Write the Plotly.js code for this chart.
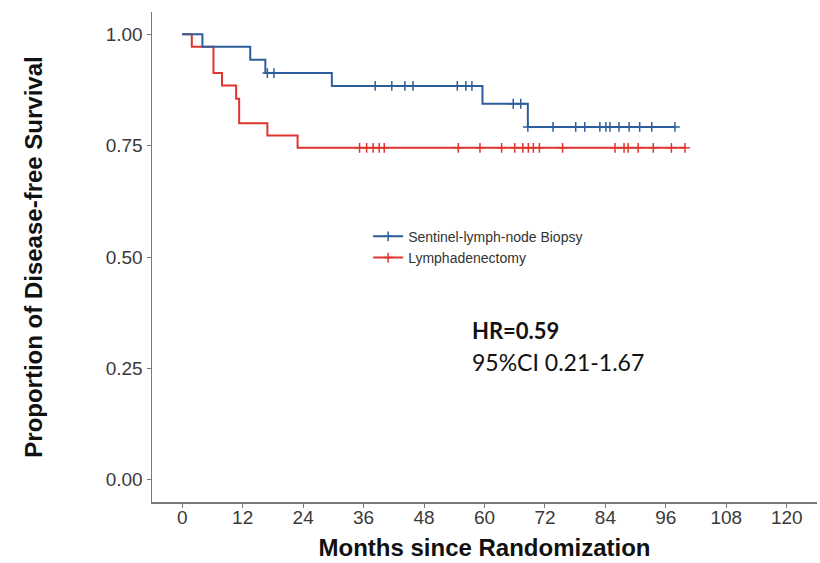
<!DOCTYPE html>
<html>
<head>
<meta charset="utf-8">
<script src="https://cdn.plot.ly/plotly-3.0.1.min.js"></script>
<style>html,body{margin:0;padding:0;background:#fff;}#chart{width:820px;height:563px;}</style>
</head>
<body>
<div id="chart"></div>
<script>
// Step curves (Kaplan–Meier estimates)
const slnbTimes = [0, 4.0, 13.5, 16.5, 29.7, 59.6, 68.6, 97.8];
const slnbSurv  = [1.0, 0.972, 0.943, 0.913, 0.884, 0.844, 0.792, 0.792];
const lymTimes  = [0, 1.9, 6.2, 7.9, 10.7, 11.3, 16.9, 22.9, 99.8];
const lymSurv   = [1.0, 0.972, 0.913, 0.885, 0.855, 0.800, 0.773, 0.745, 0.745];

// Censoring times
const slnbCensor = [16.9, 18.2, 38.3, 41.6, 44.2, 45.8, 54.6, 56.3, 57.5, 65.7, 67.2, 68.6, 73.6, 78.1, 79.9, 82.9, 84.1, 84.9, 86.7, 88.7, 90.8, 93.2, 97.8];
const lymCensor  = [35.2, 36.6, 37.9, 39.1, 40.1, 54.8, 59.1, 63.4, 66.0, 67.6, 68.7, 69.7, 70.9, 75.5, 85.9, 87.7, 88.5, 90.5, 93.5, 97.1, 99.8];

const groupNames = ["Sentinel-lymph-node Biopsy", "Lymphadenectomy"];
const xTicks = [0, 12, 24, 36, 48, 60, 72, 84, 96, 108, 120];
const yTicks = [0, 0.25, 0.5, 0.75, 1.0];
const yTickText = ["0.00", "0.25", "0.50", "0.75", "1.00"];

const blue = "#2D5E9C";
const red = "#E0352F";

function survAt(times, surv, t) {
  let s = surv[0];
  for (let i = 0; i < times.length; i++) { if (times[i] <= t) s = surv[i]; }
  return s;
}

const censorMarker = c => ({symbol: "cross-thin", size: 7, line: {color: c, width: 1.5}});

const traces = [
  {x: lymTimes, y: lymSurv, mode: "lines", line: {color: red, width: 2, shape: "hv"}, showlegend: false, hoverinfo: "skip"},
  {x: lymCensor, y: lymCensor.map(t => survAt(lymTimes, lymSurv, t)), mode: "markers",
   marker: censorMarker(red), showlegend: false, hoverinfo: "skip"},
  {x: slnbTimes, y: slnbSurv, mode: "lines", line: {color: blue, width: 2, shape: "hv"}, showlegend: false, hoverinfo: "skip"},
  {x: slnbCensor, y: slnbCensor.map(t => survAt(slnbTimes, slnbSurv, t)), mode: "markers",
   marker: censorMarker(blue), showlegend: false, hoverinfo: "skip"},
  {x: [null], y: [null], name: groupNames[0], mode: "lines+markers", line: {color: blue, width: 2},
   marker: censorMarker(blue)},
  {x: [null], y: [null], name: groupNames[1], mode: "lines+markers", line: {color: red, width: 2},
   marker: censorMarker(red)}
];

const layout = {
  width: 820, height: 563,
  margin: {l: 152, r: 3, t: 12, b: 61},
  paper_bgcolor: "#fff", plot_bgcolor: "#fff",
  font: {family: "Liberation Sans, Arial, sans-serif", color: "#4d4d4d"},
  showlegend: true,
  legend: {x: 0.325, y: 0.574, xanchor: "left", yanchor: "top", bgcolor: "rgba(0,0,0,0)",
           font: {size: 14, color: "#333"}, itemwidth: 30, tracegroupgap: 0},
  xaxis: {
    range: [-6, 126], tickvals: xTicks, ticktext: xTicks.map(String),
    showgrid: false, zeroline: false, showline: true, linecolor: "#7a7a7a", linewidth: 1.5,
    ticks: "outside", ticklen: 4, tickcolor: "#7a7a7a", tickwidth: 1,
    tickfont: {size: 19, color: "#3a3a3a"}, ticklabelstandoff: -6,
    title: {text: "Months since Randomization", font: {size: 24, color: "#111", family: "Liberation Sans, Arial, sans-serif", weight: "bold"}, standoff: 12},
    automargin: false
  },
  yaxis: {
    range: [-0.05, 1.05], tickvals: yTicks, ticktext: yTickText,
    showgrid: false, zeroline: false, showline: true, linecolor: "#7a7a7a", linewidth: 1.5,
    ticks: "outside", ticklen: 4, tickcolor: "#7a7a7a", tickwidth: 1,
    tickfont: {size: 19, color: "#3a3a3a"},
    title: {text: "Proportion of Disease-free Survival", font: {size: 24, color: "#111", family: "Liberation Sans, Arial, sans-serif", weight: "bold"}, standoff: 56},
    automargin: false
  },
  annotations: [
    {x: 57.1, y: 0.334, xref: "x", yref: "y", xanchor: "left", yanchor: "middle", showarrow: false,
     text: "<b>HR=0.59</b>", font: {family: "Lato, sans-serif", size: 22, color: "#111"}},
    {x: 57.1, y: 0.264, xref: "x", yref: "y", xanchor: "left", yanchor: "middle", showarrow: false,
     text: "95%CI 0.21-1.67", font: {family: "Lato, sans-serif", size: 23, color: "#111"}}
  ]
};

Plotly.newPlot("chart", traces, layout, {displayModeBar: false, staticPlot: true});
</script>
</body>
</html>
